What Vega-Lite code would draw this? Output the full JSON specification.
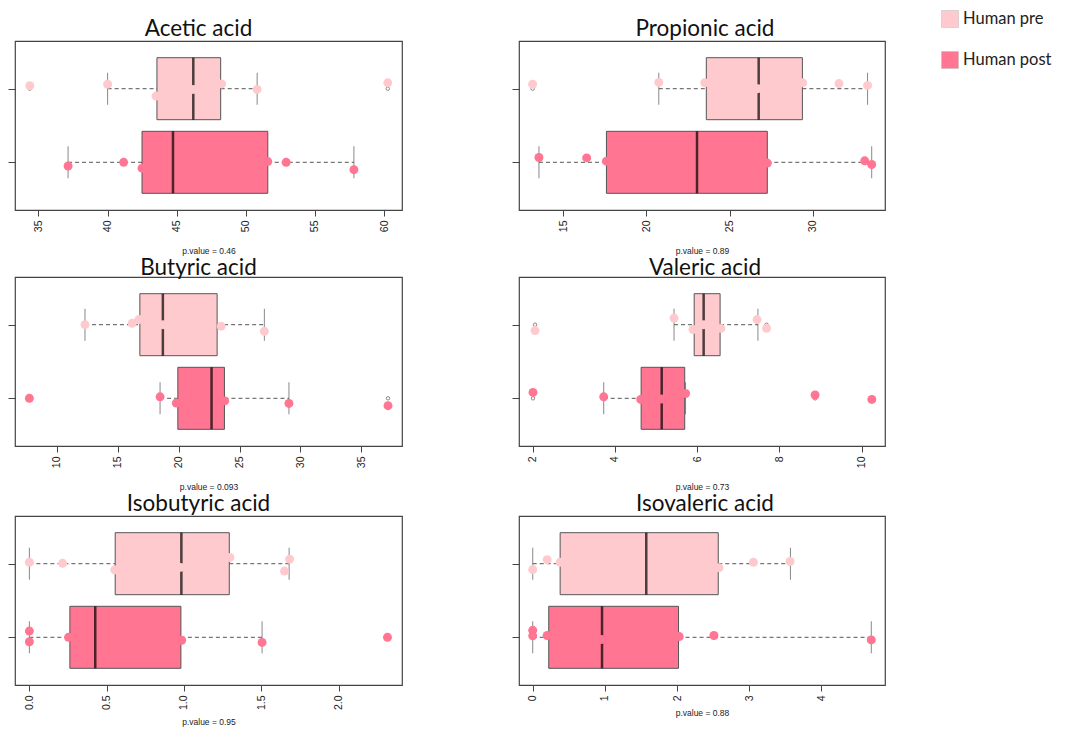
{
  "$schema": "https://vega.github.io/schema/vega-lite/v6.json",
  "padding": {"left": 6, "top": 10, "right": 5, "bottom": 5},
  "background": "white",
  "config": {
    "view": {"stroke": "#444", "strokeWidth": 1.2},
    "axis": {"grid": false, "domain": false, "tickColor": "#444", "tickSize": 6, "labelFont": "Liberation Sans", "labelFontSize": 10.5, "labelColor": "#222", "titleFont": "Liberation Sans", "titleFontSize": 8.5, "titleFontWeight": "normal", "titleColor": "#222"},
    "axisX": {"labelAngle": 270, "labelPadding": 4, "titlePadding": 15},
    "axisY": {"labels": false, "tickSize": 7},
    "title": {"font": "Lato", "fontSize": 22.5, "fontWeight": "normal", "color": "#111", "offset": 0.5},
    "legend": {"title": null, "symbolType": "square", "symbolSize": 289, "symbolStrokeWidth": 0.5, "symbolStrokeColor": "#bbb", "labelFont": "Lato", "labelFontSize": 16.5, "labelColor": "#222", "rowPadding": 21, "padding": 0, "orient": "none", "legendX": 926, "legendY": -31}
  },
  "datasets": {
    "stats": [
      {"acid": "Acetic acid", "group": "Human pre", "g": 2, "lo": 40.0, "q1": 43.57, "med": 46.2, "q3": 48.18, "hi": 50.82},
      {"acid": "Acetic acid", "group": "Human post", "g": 1, "lo": 37.14, "q1": 42.49, "med": 44.73, "q3": 51.59, "hi": 57.82},
      {"acid": "Propionic acid", "group": "Human pre", "g": 2, "lo": 20.74, "q1": 23.6, "med": 26.75, "q3": 29.38, "hi": 33.3},
      {"acid": "Propionic acid", "group": "Human post", "g": 1, "lo": 13.53, "q1": 17.59, "med": 23.04, "q3": 27.27, "hi": 33.55},
      {"acid": "Butyric acid", "group": "Human pre", "g": 2, "lo": 12.3, "q1": 16.81, "med": 18.7, "q3": 23.16, "hi": 27.04},
      {"acid": "Butyric acid", "group": "Human post", "g": 1, "lo": 18.47, "q1": 19.93, "med": 22.7, "q3": 23.76, "hi": 29.06},
      {"acid": "Valeric acid", "group": "Human pre", "g": 2, "lo": 5.44, "q1": 5.93, "med": 6.16, "q3": 6.56, "hi": 7.48},
      {"acid": "Valeric acid", "group": "Human post", "g": 1, "lo": 3.73, "q1": 4.64, "med": 5.14, "q3": 5.7, "hi": 5.72},
      {"acid": "Isobutyric acid", "group": "Human pre", "g": 2, "lo": 0, "q1": 0.555, "med": 0.983, "q3": 1.293, "hi": 1.68},
      {"acid": "Isobutyric acid", "group": "Human post", "g": 1, "lo": 0, "q1": 0.262, "med": 0.426, "q3": 0.98, "hi": 1.505},
      {"acid": "Isovaleric acid", "group": "Human pre", "g": 2, "lo": 0, "q1": 0.38, "med": 1.573, "q3": 2.57, "hi": 3.57},
      {"acid": "Isovaleric acid", "group": "Human post", "g": 1, "lo": 0, "q1": 0.222, "med": 0.96, "q3": 2.02, "hi": 4.69}
    ],
    "outl": [
      {"acid": "Acetic acid", "group": "Human pre", "g": 2, "value": 34.37},
      {"acid": "Acetic acid", "group": "Human pre", "g": 2, "value": 60.27},
      {"acid": "Propionic acid", "group": "Human pre", "g": 2, "value": 13.15},
      {"acid": "Butyric acid", "group": "Human post", "g": 1, "value": 7.73},
      {"acid": "Butyric acid", "group": "Human post", "g": 1, "value": 37.2},
      {"acid": "Valeric acid", "group": "Human pre", "g": 2, "value": 2.06},
      {"acid": "Valeric acid", "group": "Human pre", "g": 2, "value": 7.69},
      {"acid": "Valeric acid", "group": "Human post", "g": 1, "value": 2.01},
      {"acid": "Valeric acid", "group": "Human post", "g": 1, "value": 8.87},
      {"acid": "Valeric acid", "group": "Human post", "g": 1, "value": 10.25},
      {"acid": "Isobutyric acid", "group": "Human post", "g": 1, "value": 2.316}
    ],
    "pts": [
      {"acid": "Acetic acid", "group": "Human pre", "value": 34.37, "y": 2.04},
      {"acid": "Acetic acid", "group": "Human pre", "value": 40.0, "y": 2.06},
      {"acid": "Acetic acid", "group": "Human pre", "value": 43.5, "y": 1.9},
      {"acid": "Acetic acid", "group": "Human pre", "value": 46.2, "y": 1.99},
      {"acid": "Acetic acid", "group": "Human pre", "value": 48.25, "y": 2.065},
      {"acid": "Acetic acid", "group": "Human pre", "value": 50.82, "y": 1.99},
      {"acid": "Acetic acid", "group": "Human pre", "value": 60.27, "y": 2.08},
      {"acid": "Acetic acid", "group": "Human post", "value": 37.14, "y": 0.95},
      {"acid": "Acetic acid", "group": "Human post", "value": 41.16, "y": 1.0},
      {"acid": "Acetic acid", "group": "Human post", "value": 42.49, "y": 0.92},
      {"acid": "Acetic acid", "group": "Human post", "value": 51.59, "y": 1.01},
      {"acid": "Acetic acid", "group": "Human post", "value": 52.92, "y": 1.0},
      {"acid": "Acetic acid", "group": "Human post", "value": 57.82, "y": 0.9},
      {"acid": "Propionic acid", "group": "Human pre", "value": 13.15, "y": 2.06},
      {"acid": "Propionic acid", "group": "Human pre", "value": 20.74, "y": 2.085},
      {"acid": "Propionic acid", "group": "Human pre", "value": 23.5, "y": 2.08},
      {"acid": "Propionic acid", "group": "Human pre", "value": 26.7, "y": 2.0},
      {"acid": "Propionic acid", "group": "Human pre", "value": 29.4, "y": 2.08},
      {"acid": "Propionic acid", "group": "Human pre", "value": 31.58, "y": 2.07},
      {"acid": "Propionic acid", "group": "Human pre", "value": 33.3, "y": 2.045},
      {"acid": "Propionic acid", "group": "Human post", "value": 13.53, "y": 1.065},
      {"acid": "Propionic acid", "group": "Human post", "value": 16.4, "y": 1.06},
      {"acid": "Propionic acid", "group": "Human post", "value": 17.59, "y": 1.015},
      {"acid": "Propionic acid", "group": "Human post", "value": 27.27, "y": 0.99},
      {"acid": "Propionic acid", "group": "Human post", "value": 33.13, "y": 1.02},
      {"acid": "Propionic acid", "group": "Human post", "value": 33.55, "y": 0.97},
      {"acid": "Butyric acid", "group": "Human pre", "value": 12.3, "y": 2.0},
      {"acid": "Butyric acid", "group": "Human pre", "value": 16.18, "y": 2.02},
      {"acid": "Butyric acid", "group": "Human pre", "value": 16.73, "y": 2.07},
      {"acid": "Butyric acid", "group": "Human pre", "value": 18.7, "y": 2.0},
      {"acid": "Butyric acid", "group": "Human pre", "value": 23.49, "y": 1.98},
      {"acid": "Butyric acid", "group": "Human pre", "value": 27.04, "y": 1.91},
      {"acid": "Butyric acid", "group": "Human post", "value": 7.73, "y": 1.0},
      {"acid": "Butyric acid", "group": "Human post", "value": 18.47, "y": 1.02},
      {"acid": "Butyric acid", "group": "Human post", "value": 19.8, "y": 0.935},
      {"acid": "Butyric acid", "group": "Human post", "value": 23.78, "y": 0.965},
      {"acid": "Butyric acid", "group": "Human post", "value": 29.06, "y": 0.93},
      {"acid": "Butyric acid", "group": "Human post", "value": 37.2, "y": 0.9},
      {"acid": "Valeric acid", "group": "Human pre", "value": 2.06, "y": 1.92},
      {"acid": "Valeric acid", "group": "Human pre", "value": 5.44, "y": 2.09},
      {"acid": "Valeric acid", "group": "Human pre", "value": 5.9, "y": 1.935},
      {"acid": "Valeric acid", "group": "Human pre", "value": 6.16, "y": 2.0},
      {"acid": "Valeric acid", "group": "Human pre", "value": 6.58, "y": 1.95},
      {"acid": "Valeric acid", "group": "Human pre", "value": 7.46, "y": 2.07},
      {"acid": "Valeric acid", "group": "Human pre", "value": 7.69, "y": 1.95},
      {"acid": "Valeric acid", "group": "Human post", "value": 2.01, "y": 1.08},
      {"acid": "Valeric acid", "group": "Human post", "value": 3.73, "y": 1.02},
      {"acid": "Valeric acid", "group": "Human post", "value": 4.63, "y": 0.985},
      {"acid": "Valeric acid", "group": "Human post", "value": 5.14, "y": 0.99},
      {"acid": "Valeric acid", "group": "Human post", "value": 5.72, "y": 1.065},
      {"acid": "Valeric acid", "group": "Human post", "value": 8.87, "y": 1.045},
      {"acid": "Valeric acid", "group": "Human post", "value": 10.25, "y": 0.985},
      {"acid": "Isobutyric acid", "group": "Human pre", "value": 0.0, "y": 2.02},
      {"acid": "Isobutyric acid", "group": "Human pre", "value": 0.215, "y": 2.005},
      {"acid": "Isobutyric acid", "group": "Human pre", "value": 0.552, "y": 1.915},
      {"acid": "Isobutyric acid", "group": "Human pre", "value": 0.978, "y": 1.95},
      {"acid": "Isobutyric acid", "group": "Human pre", "value": 1.297, "y": 2.085},
      {"acid": "Isobutyric acid", "group": "Human pre", "value": 1.65, "y": 1.9},
      {"acid": "Isobutyric acid", "group": "Human pre", "value": 1.683, "y": 2.06},
      {"acid": "Isobutyric acid", "group": "Human post", "value": 0.0, "y": 1.085},
      {"acid": "Isobutyric acid", "group": "Human post", "value": 0.0, "y": 0.94},
      {"acid": "Isobutyric acid", "group": "Human post", "value": 0.253, "y": 1.0},
      {"acid": "Isobutyric acid", "group": "Human post", "value": 0.985, "y": 0.96},
      {"acid": "Isobutyric acid", "group": "Human post", "value": 1.505, "y": 0.93},
      {"acid": "Isobutyric acid", "group": "Human post", "value": 2.316, "y": 1.0},
      {"acid": "Isovaleric acid", "group": "Human pre", "value": 0.0, "y": 1.92},
      {"acid": "Isovaleric acid", "group": "Human pre", "value": 0.2, "y": 2.055},
      {"acid": "Isovaleric acid", "group": "Human pre", "value": 0.38, "y": 2.02},
      {"acid": "Isovaleric acid", "group": "Human pre", "value": 2.58, "y": 1.945},
      {"acid": "Isovaleric acid", "group": "Human pre", "value": 3.057, "y": 2.02},
      {"acid": "Isovaleric acid", "group": "Human pre", "value": 3.565, "y": 2.03},
      {"acid": "Isovaleric acid", "group": "Human post", "value": 0.0, "y": 1.095},
      {"acid": "Isovaleric acid", "group": "Human post", "value": 0.0, "y": 1.02},
      {"acid": "Isovaleric acid", "group": "Human post", "value": 0.2, "y": 1.025},
      {"acid": "Isovaleric acid", "group": "Human post", "value": 0.95, "y": 0.97},
      {"acid": "Isovaleric acid", "group": "Human post", "value": 2.03, "y": 1.01},
      {"acid": "Isovaleric acid", "group": "Human post", "value": 2.51, "y": 1.025},
      {"acid": "Isovaleric acid", "group": "Human post", "value": 4.69, "y": 0.965}
    ]
  },
  "columns": 2,
  "spacing": {"row": 0, "column": 107},
  "concat": [
    {
      "width": 387, "height": 169, "title": {"text": "Acetic acid", "dx": -10},
      "layer": [
        {"data": {"name": "stats"}, "transform": [{"filter": "datum.acid === 'Acetic acid'"}], "mark": {"type": "rule", "strokeDash": [4, 3], "color": "#555"}, "encoding": {"x": {"field": "lo", "type": "quantitative", "scale": {"domain": [33.3, 61.3], "nice": false, "zero": false}, "axis": {"values": [35, 40, 45, 50, 55, 60], "format": "d"}, "title": "p.value = 0.46"}, "x2": {"field": "q1"}, "y": {"field": "g", "type": "quantitative", "scale": {"domain": [0.42, 2.58], "nice": false, "zero": false}, "axis": {"values": [1, 2]}, "title": null}}},
        {"data": {"name": "stats"}, "transform": [{"filter": "datum.acid === 'Acetic acid'"}], "mark": {"type": "rule", "strokeDash": [4, 3], "color": "#555"}, "encoding": {"x": {"field": "q3", "type": "quantitative", "scale": {"domain": [33.3, 61.3], "nice": false, "zero": false}, "title": "p.value = 0.46"}, "x2": {"field": "hi"}, "y": {"field": "g", "type": "quantitative", "scale": {"domain": [0.42, 2.58], "nice": false, "zero": false}, "title": null}}},
        {"data": {"name": "stats"}, "transform": [{"filter": "datum.acid === 'Acetic acid'"}, {"fold": ["lo", "hi"], "as": ["end", "cap"]}], "mark": {"type": "tick", "orient": "vertical", "size": 32, "thickness": 1, "color": "#555"}, "encoding": {"x": {"field": "cap", "type": "quantitative", "scale": {"domain": [33.3, 61.3], "nice": false, "zero": false}, "title": "p.value = 0.46"}, "y": {"field": "g", "type": "quantitative", "scale": {"domain": [0.42, 2.58], "nice": false, "zero": false}, "title": null}}},
        {"data": {"name": "stats"}, "transform": [{"filter": "datum.acid === 'Acetic acid'"}], "mark": {"type": "bar", "size": 62, "stroke": "#555", "strokeWidth": 1}, "encoding": {"x": {"field": "q1", "type": "quantitative", "scale": {"domain": [33.3, 61.3], "nice": false, "zero": false}, "title": "p.value = 0.46"}, "x2": {"field": "q3"}, "y": {"field": "g", "type": "quantitative", "scale": {"domain": [0.42, 2.58], "nice": false, "zero": false}, "title": null}, "color": {"field": "group", "type": "nominal", "scale": {"domain": ["Human pre", "Human post"], "range": ["#FFCACD", "#FF7592"]}}}},
        {"data": {"name": "stats"}, "transform": [{"filter": "datum.acid === 'Acetic acid'"}], "mark": {"type": "tick", "orient": "vertical", "size": 62, "thickness": 2.5, "color": "#000"}, "encoding": {"x": {"field": "med", "type": "quantitative", "scale": {"domain": [33.3, 61.3], "nice": false, "zero": false}, "title": "p.value = 0.46"}, "y": {"field": "g", "type": "quantitative", "scale": {"domain": [0.42, 2.58], "nice": false, "zero": false}, "title": null}}},
        {"data": {"name": "outl"}, "transform": [{"filter": "datum.acid === 'Acetic acid'"}], "mark": {"type": "point", "shape": "circle", "filled": false, "size": 12, "color": "#333", "strokeWidth": 0.8}, "encoding": {"x": {"field": "value", "type": "quantitative", "scale": {"domain": [33.3, 61.3], "nice": false, "zero": false}, "title": "p.value = 0.46"}, "y": {"field": "g", "type": "quantitative", "scale": {"domain": [0.42, 2.58], "nice": false, "zero": false}, "title": null}}},
        {"data": {"name": "pts"}, "transform": [{"filter": "datum.acid === 'Acetic acid'"}], "mark": {"type": "circle", "size": 80, "opacity": 1}, "encoding": {"x": {"field": "value", "type": "quantitative", "scale": {"domain": [33.3, 61.3], "nice": false, "zero": false}, "title": "p.value = 0.46"}, "y": {"field": "y", "type": "quantitative", "scale": {"domain": [0.42, 2.58], "nice": false, "zero": false}, "title": null}, "color": {"field": "group", "type": "nominal", "scale": {"domain": ["Human pre", "Human post"], "range": ["#FFCACD", "#FF7592"]}}}}
      ]
    },
    {
      "width": 366, "height": 169, "title": {"text": "Propionic acid", "dx": 3},
      "layer": [
        {"data": {"name": "stats"}, "transform": [{"filter": "datum.acid === 'Propionic acid'"}], "mark": {"type": "rule", "strokeDash": [4, 3], "color": "#555"}, "encoding": {"x": {"field": "lo", "type": "quantitative", "scale": {"domain": [12.33, 34.35], "nice": false, "zero": false}, "axis": {"values": [15, 20, 25, 30], "format": "d"}, "title": "p.value = 0.89"}, "x2": {"field": "q1"}, "y": {"field": "g", "type": "quantitative", "scale": {"domain": [0.42, 2.58], "nice": false, "zero": false}, "axis": {"values": [1, 2]}, "title": null}}},
        {"data": {"name": "stats"}, "transform": [{"filter": "datum.acid === 'Propionic acid'"}], "mark": {"type": "rule", "strokeDash": [4, 3], "color": "#555"}, "encoding": {"x": {"field": "q3", "type": "quantitative", "scale": {"domain": [12.33, 34.35], "nice": false, "zero": false}, "title": "p.value = 0.89"}, "x2": {"field": "hi"}, "y": {"field": "g", "type": "quantitative", "scale": {"domain": [0.42, 2.58], "nice": false, "zero": false}, "title": null}}},
        {"data": {"name": "stats"}, "transform": [{"filter": "datum.acid === 'Propionic acid'"}, {"fold": ["lo", "hi"], "as": ["end", "cap"]}], "mark": {"type": "tick", "orient": "vertical", "size": 32, "thickness": 1, "color": "#555"}, "encoding": {"x": {"field": "cap", "type": "quantitative", "scale": {"domain": [12.33, 34.35], "nice": false, "zero": false}, "title": "p.value = 0.89"}, "y": {"field": "g", "type": "quantitative", "scale": {"domain": [0.42, 2.58], "nice": false, "zero": false}, "title": null}}},
        {"data": {"name": "stats"}, "transform": [{"filter": "datum.acid === 'Propionic acid'"}], "mark": {"type": "bar", "size": 62, "stroke": "#555", "strokeWidth": 1}, "encoding": {"x": {"field": "q1", "type": "quantitative", "scale": {"domain": [12.33, 34.35], "nice": false, "zero": false}, "title": "p.value = 0.89"}, "x2": {"field": "q3"}, "y": {"field": "g", "type": "quantitative", "scale": {"domain": [0.42, 2.58], "nice": false, "zero": false}, "title": null}, "color": {"field": "group", "type": "nominal", "scale": {"domain": ["Human pre", "Human post"], "range": ["#FFCACD", "#FF7592"]}}}},
        {"data": {"name": "stats"}, "transform": [{"filter": "datum.acid === 'Propionic acid'"}], "mark": {"type": "tick", "orient": "vertical", "size": 62, "thickness": 2.5, "color": "#000"}, "encoding": {"x": {"field": "med", "type": "quantitative", "scale": {"domain": [12.33, 34.35], "nice": false, "zero": false}, "title": "p.value = 0.89"}, "y": {"field": "g", "type": "quantitative", "scale": {"domain": [0.42, 2.58], "nice": false, "zero": false}, "title": null}}},
        {"data": {"name": "outl"}, "transform": [{"filter": "datum.acid === 'Propionic acid'"}], "mark": {"type": "point", "shape": "circle", "filled": false, "size": 12, "color": "#333", "strokeWidth": 0.8}, "encoding": {"x": {"field": "value", "type": "quantitative", "scale": {"domain": [12.33, 34.35], "nice": false, "zero": false}, "title": "p.value = 0.89"}, "y": {"field": "g", "type": "quantitative", "scale": {"domain": [0.42, 2.58], "nice": false, "zero": false}, "title": null}}},
        {"data": {"name": "pts"}, "transform": [{"filter": "datum.acid === 'Propionic acid'"}], "mark": {"type": "circle", "size": 80, "opacity": 1}, "encoding": {"x": {"field": "value", "type": "quantitative", "scale": {"domain": [12.33, 34.35], "nice": false, "zero": false}, "title": "p.value = 0.89"}, "y": {"field": "y", "type": "quantitative", "scale": {"domain": [0.42, 2.58], "nice": false, "zero": false}, "title": null}, "color": {"field": "group", "type": "nominal", "scale": {"domain": ["Human pre", "Human post"], "range": ["#FFCACD", "#FF7592"]}}}}
      ]
    },
    {
      "width": 387, "height": 169, "title": {"text": "Butyric acid", "dx": -10, "offset": -2.5},
      "layer": [
        {"data": {"name": "stats"}, "transform": [{"filter": "datum.acid === 'Butyric acid'"}], "mark": {"type": "rule", "strokeDash": [4, 3], "color": "#555"}, "encoding": {"x": {"field": "lo", "type": "quantitative", "scale": {"domain": [6.55, 38.35], "nice": false, "zero": false}, "axis": {"values": [10, 15, 20, 25, 30, 35], "format": "d"}, "title": "p.value = 0.093"}, "x2": {"field": "q1"}, "y": {"field": "g", "type": "quantitative", "scale": {"domain": [0.42, 2.58], "nice": false, "zero": false}, "axis": {"values": [1, 2]}, "title": null}}},
        {"data": {"name": "stats"}, "transform": [{"filter": "datum.acid === 'Butyric acid'"}], "mark": {"type": "rule", "strokeDash": [4, 3], "color": "#555"}, "encoding": {"x": {"field": "q3", "type": "quantitative", "scale": {"domain": [6.55, 38.35], "nice": false, "zero": false}, "title": "p.value = 0.093"}, "x2": {"field": "hi"}, "y": {"field": "g", "type": "quantitative", "scale": {"domain": [0.42, 2.58], "nice": false, "zero": false}, "title": null}}},
        {"data": {"name": "stats"}, "transform": [{"filter": "datum.acid === 'Butyric acid'"}, {"fold": ["lo", "hi"], "as": ["end", "cap"]}], "mark": {"type": "tick", "orient": "vertical", "size": 32, "thickness": 1, "color": "#555"}, "encoding": {"x": {"field": "cap", "type": "quantitative", "scale": {"domain": [6.55, 38.35], "nice": false, "zero": false}, "title": "p.value = 0.093"}, "y": {"field": "g", "type": "quantitative", "scale": {"domain": [0.42, 2.58], "nice": false, "zero": false}, "title": null}}},
        {"data": {"name": "stats"}, "transform": [{"filter": "datum.acid === 'Butyric acid'"}], "mark": {"type": "bar", "size": 62, "stroke": "#555", "strokeWidth": 1}, "encoding": {"x": {"field": "q1", "type": "quantitative", "scale": {"domain": [6.55, 38.35], "nice": false, "zero": false}, "title": "p.value = 0.093"}, "x2": {"field": "q3"}, "y": {"field": "g", "type": "quantitative", "scale": {"domain": [0.42, 2.58], "nice": false, "zero": false}, "title": null}, "color": {"field": "group", "type": "nominal", "scale": {"domain": ["Human pre", "Human post"], "range": ["#FFCACD", "#FF7592"]}}}},
        {"data": {"name": "stats"}, "transform": [{"filter": "datum.acid === 'Butyric acid'"}], "mark": {"type": "tick", "orient": "vertical", "size": 62, "thickness": 2.5, "color": "#000"}, "encoding": {"x": {"field": "med", "type": "quantitative", "scale": {"domain": [6.55, 38.35], "nice": false, "zero": false}, "title": "p.value = 0.093"}, "y": {"field": "g", "type": "quantitative", "scale": {"domain": [0.42, 2.58], "nice": false, "zero": false}, "title": null}}},
        {"data": {"name": "outl"}, "transform": [{"filter": "datum.acid === 'Butyric acid'"}], "mark": {"type": "point", "shape": "circle", "filled": false, "size": 12, "color": "#333", "strokeWidth": 0.8}, "encoding": {"x": {"field": "value", "type": "quantitative", "scale": {"domain": [6.55, 38.35], "nice": false, "zero": false}, "title": "p.value = 0.093"}, "y": {"field": "g", "type": "quantitative", "scale": {"domain": [0.42, 2.58], "nice": false, "zero": false}, "title": null}}},
        {"data": {"name": "pts"}, "transform": [{"filter": "datum.acid === 'Butyric acid'"}], "mark": {"type": "circle", "size": 80, "opacity": 1}, "encoding": {"x": {"field": "value", "type": "quantitative", "scale": {"domain": [6.55, 38.35], "nice": false, "zero": false}, "title": "p.value = 0.093"}, "y": {"field": "y", "type": "quantitative", "scale": {"domain": [0.42, 2.58], "nice": false, "zero": false}, "title": null}, "color": {"field": "group", "type": "nominal", "scale": {"domain": ["Human pre", "Human post"], "range": ["#FFCACD", "#FF7592"]}}}}
      ]
    },
    {
      "width": 366, "height": 169, "title": {"text": "Valeric acid", "dx": 3, "offset": -2.5},
      "layer": [
        {"data": {"name": "stats"}, "transform": [{"filter": "datum.acid === 'Valeric acid'"}], "mark": {"type": "rule", "strokeDash": [4, 3], "color": "#555"}, "encoding": {"x": {"field": "lo", "type": "quantitative", "scale": {"domain": [1.67, 10.57], "nice": false, "zero": false}, "axis": {"values": [2, 4, 6, 8, 10], "format": "d"}, "title": "p.value = 0.73"}, "x2": {"field": "q1"}, "y": {"field": "g", "type": "quantitative", "scale": {"domain": [0.42, 2.58], "nice": false, "zero": false}, "axis": {"values": [1, 2]}, "title": null}}},
        {"data": {"name": "stats"}, "transform": [{"filter": "datum.acid === 'Valeric acid'"}], "mark": {"type": "rule", "strokeDash": [4, 3], "color": "#555"}, "encoding": {"x": {"field": "q3", "type": "quantitative", "scale": {"domain": [1.67, 10.57], "nice": false, "zero": false}, "title": "p.value = 0.73"}, "x2": {"field": "hi"}, "y": {"field": "g", "type": "quantitative", "scale": {"domain": [0.42, 2.58], "nice": false, "zero": false}, "title": null}}},
        {"data": {"name": "stats"}, "transform": [{"filter": "datum.acid === 'Valeric acid'"}, {"fold": ["lo", "hi"], "as": ["end", "cap"]}], "mark": {"type": "tick", "orient": "vertical", "size": 32, "thickness": 1, "color": "#555"}, "encoding": {"x": {"field": "cap", "type": "quantitative", "scale": {"domain": [1.67, 10.57], "nice": false, "zero": false}, "title": "p.value = 0.73"}, "y": {"field": "g", "type": "quantitative", "scale": {"domain": [0.42, 2.58], "nice": false, "zero": false}, "title": null}}},
        {"data": {"name": "stats"}, "transform": [{"filter": "datum.acid === 'Valeric acid'"}], "mark": {"type": "bar", "size": 62, "stroke": "#555", "strokeWidth": 1}, "encoding": {"x": {"field": "q1", "type": "quantitative", "scale": {"domain": [1.67, 10.57], "nice": false, "zero": false}, "title": "p.value = 0.73"}, "x2": {"field": "q3"}, "y": {"field": "g", "type": "quantitative", "scale": {"domain": [0.42, 2.58], "nice": false, "zero": false}, "title": null}, "color": {"field": "group", "type": "nominal", "scale": {"domain": ["Human pre", "Human post"], "range": ["#FFCACD", "#FF7592"]}}}},
        {"data": {"name": "stats"}, "transform": [{"filter": "datum.acid === 'Valeric acid'"}], "mark": {"type": "tick", "orient": "vertical", "size": 62, "thickness": 2.5, "color": "#000"}, "encoding": {"x": {"field": "med", "type": "quantitative", "scale": {"domain": [1.67, 10.57], "nice": false, "zero": false}, "title": "p.value = 0.73"}, "y": {"field": "g", "type": "quantitative", "scale": {"domain": [0.42, 2.58], "nice": false, "zero": false}, "title": null}}},
        {"data": {"name": "outl"}, "transform": [{"filter": "datum.acid === 'Valeric acid'"}], "mark": {"type": "point", "shape": "circle", "filled": false, "size": 12, "color": "#333", "strokeWidth": 0.8}, "encoding": {"x": {"field": "value", "type": "quantitative", "scale": {"domain": [1.67, 10.57], "nice": false, "zero": false}, "title": "p.value = 0.73"}, "y": {"field": "g", "type": "quantitative", "scale": {"domain": [0.42, 2.58], "nice": false, "zero": false}, "title": null}}},
        {"data": {"name": "pts"}, "transform": [{"filter": "datum.acid === 'Valeric acid'"}], "mark": {"type": "circle", "size": 80, "opacity": 1}, "encoding": {"x": {"field": "value", "type": "quantitative", "scale": {"domain": [1.67, 10.57], "nice": false, "zero": false}, "title": "p.value = 0.73"}, "y": {"field": "y", "type": "quantitative", "scale": {"domain": [0.42, 2.58], "nice": false, "zero": false}, "title": null}, "color": {"field": "group", "type": "nominal", "scale": {"domain": ["Human pre", "Human post"], "range": ["#FFCACD", "#FF7592"]}}}}
      ]
    },
    {
      "width": 387, "height": 169, "title": {"text": "Isobutyric acid", "dx": -10},
      "layer": [
        {"data": {"name": "stats"}, "transform": [{"filter": "datum.acid === 'Isobutyric acid'"}], "mark": {"type": "rule", "strokeDash": [4, 3], "color": "#555"}, "encoding": {"x": {"field": "lo", "type": "quantitative", "scale": {"domain": [-0.093, 2.41], "nice": false, "zero": false}, "axis": {"values": [0, 0.5, 1, 1.5, 2], "format": ".1f", "titlePadding": 8}, "title": "p.value = 0.95"}, "x2": {"field": "q1"}, "y": {"field": "g", "type": "quantitative", "scale": {"domain": [0.42, 2.58], "nice": false, "zero": false}, "axis": {"values": [1, 2]}, "title": null}}},
        {"data": {"name": "stats"}, "transform": [{"filter": "datum.acid === 'Isobutyric acid'"}], "mark": {"type": "rule", "strokeDash": [4, 3], "color": "#555"}, "encoding": {"x": {"field": "q3", "type": "quantitative", "scale": {"domain": [-0.093, 2.41], "nice": false, "zero": false}, "title": "p.value = 0.95"}, "x2": {"field": "hi"}, "y": {"field": "g", "type": "quantitative", "scale": {"domain": [0.42, 2.58], "nice": false, "zero": false}, "title": null}}},
        {"data": {"name": "stats"}, "transform": [{"filter": "datum.acid === 'Isobutyric acid'"}, {"fold": ["lo", "hi"], "as": ["end", "cap"]}], "mark": {"type": "tick", "orient": "vertical", "size": 32, "thickness": 1, "color": "#555"}, "encoding": {"x": {"field": "cap", "type": "quantitative", "scale": {"domain": [-0.093, 2.41], "nice": false, "zero": false}, "title": "p.value = 0.95"}, "y": {"field": "g", "type": "quantitative", "scale": {"domain": [0.42, 2.58], "nice": false, "zero": false}, "title": null}}},
        {"data": {"name": "stats"}, "transform": [{"filter": "datum.acid === 'Isobutyric acid'"}], "mark": {"type": "bar", "size": 62, "stroke": "#555", "strokeWidth": 1}, "encoding": {"x": {"field": "q1", "type": "quantitative", "scale": {"domain": [-0.093, 2.41], "nice": false, "zero": false}, "title": "p.value = 0.95"}, "x2": {"field": "q3"}, "y": {"field": "g", "type": "quantitative", "scale": {"domain": [0.42, 2.58], "nice": false, "zero": false}, "title": null}, "color": {"field": "group", "type": "nominal", "scale": {"domain": ["Human pre", "Human post"], "range": ["#FFCACD", "#FF7592"]}}}},
        {"data": {"name": "stats"}, "transform": [{"filter": "datum.acid === 'Isobutyric acid'"}], "mark": {"type": "tick", "orient": "vertical", "size": 62, "thickness": 2.5, "color": "#000"}, "encoding": {"x": {"field": "med", "type": "quantitative", "scale": {"domain": [-0.093, 2.41], "nice": false, "zero": false}, "title": "p.value = 0.95"}, "y": {"field": "g", "type": "quantitative", "scale": {"domain": [0.42, 2.58], "nice": false, "zero": false}, "title": null}}},
        {"data": {"name": "outl"}, "transform": [{"filter": "datum.acid === 'Isobutyric acid'"}], "mark": {"type": "point", "shape": "circle", "filled": false, "size": 12, "color": "#333", "strokeWidth": 0.8}, "encoding": {"x": {"field": "value", "type": "quantitative", "scale": {"domain": [-0.093, 2.41], "nice": false, "zero": false}, "title": "p.value = 0.95"}, "y": {"field": "g", "type": "quantitative", "scale": {"domain": [0.42, 2.58], "nice": false, "zero": false}, "title": null}}},
        {"data": {"name": "pts"}, "transform": [{"filter": "datum.acid === 'Isobutyric acid'"}], "mark": {"type": "circle", "size": 80, "opacity": 1}, "encoding": {"x": {"field": "value", "type": "quantitative", "scale": {"domain": [-0.093, 2.41], "nice": false, "zero": false}, "title": "p.value = 0.95"}, "y": {"field": "y", "type": "quantitative", "scale": {"domain": [0.42, 2.58], "nice": false, "zero": false}, "title": null}, "color": {"field": "group", "type": "nominal", "scale": {"domain": ["Human pre", "Human post"], "range": ["#FFCACD", "#FF7592"]}}}}
      ]
    },
    {
      "width": 366, "height": 169, "title": {"text": "Isovaleric acid", "dx": 3},
      "layer": [
        {"data": {"name": "stats"}, "transform": [{"filter": "datum.acid === 'Isovaleric acid'"}], "mark": {"type": "rule", "strokeDash": [4, 3], "color": "#555"}, "encoding": {"x": {"field": "lo", "type": "quantitative", "scale": {"domain": [-0.19, 4.88], "nice": false, "zero": false}, "axis": {"values": [0, 1, 2, 3, 4], "format": "d", "titlePadding": 8}, "title": "p.value = 0.88"}, "x2": {"field": "q1"}, "y": {"field": "g", "type": "quantitative", "scale": {"domain": [0.42, 2.58], "nice": false, "zero": false}, "axis": {"values": [1, 2]}, "title": null}}},
        {"data": {"name": "stats"}, "transform": [{"filter": "datum.acid === 'Isovaleric acid'"}], "mark": {"type": "rule", "strokeDash": [4, 3], "color": "#555"}, "encoding": {"x": {"field": "q3", "type": "quantitative", "scale": {"domain": [-0.19, 4.88], "nice": false, "zero": false}, "title": "p.value = 0.88"}, "x2": {"field": "hi"}, "y": {"field": "g", "type": "quantitative", "scale": {"domain": [0.42, 2.58], "nice": false, "zero": false}, "title": null}}},
        {"data": {"name": "stats"}, "transform": [{"filter": "datum.acid === 'Isovaleric acid'"}, {"fold": ["lo", "hi"], "as": ["end", "cap"]}], "mark": {"type": "tick", "orient": "vertical", "size": 32, "thickness": 1, "color": "#555"}, "encoding": {"x": {"field": "cap", "type": "quantitative", "scale": {"domain": [-0.19, 4.88], "nice": false, "zero": false}, "title": "p.value = 0.88"}, "y": {"field": "g", "type": "quantitative", "scale": {"domain": [0.42, 2.58], "nice": false, "zero": false}, "title": null}}},
        {"data": {"name": "stats"}, "transform": [{"filter": "datum.acid === 'Isovaleric acid'"}], "mark": {"type": "bar", "size": 62, "stroke": "#555", "strokeWidth": 1}, "encoding": {"x": {"field": "q1", "type": "quantitative", "scale": {"domain": [-0.19, 4.88], "nice": false, "zero": false}, "title": "p.value = 0.88"}, "x2": {"field": "q3"}, "y": {"field": "g", "type": "quantitative", "scale": {"domain": [0.42, 2.58], "nice": false, "zero": false}, "title": null}, "color": {"field": "group", "type": "nominal", "scale": {"domain": ["Human pre", "Human post"], "range": ["#FFCACD", "#FF7592"]}}}},
        {"data": {"name": "stats"}, "transform": [{"filter": "datum.acid === 'Isovaleric acid'"}], "mark": {"type": "tick", "orient": "vertical", "size": 62, "thickness": 2.5, "color": "#000"}, "encoding": {"x": {"field": "med", "type": "quantitative", "scale": {"domain": [-0.19, 4.88], "nice": false, "zero": false}, "title": "p.value = 0.88"}, "y": {"field": "g", "type": "quantitative", "scale": {"domain": [0.42, 2.58], "nice": false, "zero": false}, "title": null}}},
        {"data": {"name": "outl"}, "transform": [{"filter": "datum.acid === 'Isovaleric acid'"}], "mark": {"type": "point", "shape": "circle", "filled": false, "size": 12, "color": "#333", "strokeWidth": 0.8}, "encoding": {"x": {"field": "value", "type": "quantitative", "scale": {"domain": [-0.19, 4.88], "nice": false, "zero": false}, "title": "p.value = 0.88"}, "y": {"field": "g", "type": "quantitative", "scale": {"domain": [0.42, 2.58], "nice": false, "zero": false}, "title": null}}},
        {"data": {"name": "pts"}, "transform": [{"filter": "datum.acid === 'Isovaleric acid'"}], "mark": {"type": "circle", "size": 80, "opacity": 1}, "encoding": {"x": {"field": "value", "type": "quantitative", "scale": {"domain": [-0.19, 4.88], "nice": false, "zero": false}, "title": "p.value = 0.88"}, "y": {"field": "y", "type": "quantitative", "scale": {"domain": [0.42, 2.58], "nice": false, "zero": false}, "title": null}, "color": {"field": "group", "type": "nominal", "scale": {"domain": ["Human pre", "Human post"], "range": ["#FFCACD", "#FF7592"]}}}}
      ]
    }
  ]
}
